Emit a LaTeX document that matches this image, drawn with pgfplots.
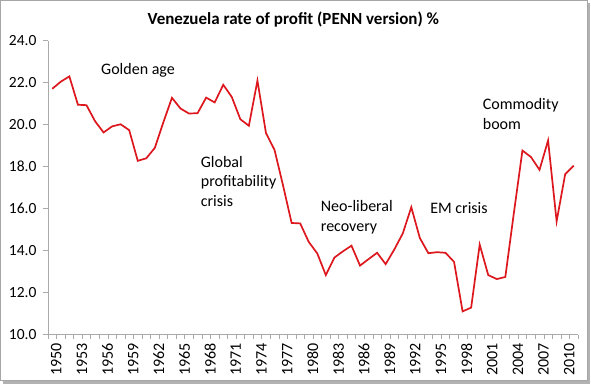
\documentclass[border=0pt]{standalone}
\usepackage{pgfplots}
\pgfplotsset{compat=1.18}
\usepackage{fontspec}
\setmainfont{Carlito}
\definecolor{linered}{RGB}{220,24,30}
\definecolor{axgray}{RGB}{170,170,170}
\begin{document}
\begin{tikzpicture}
\useasboundingbox (0bp,0bp) rectangle (591bp,388bp);
\fill[gray!60] (3bp,4bp) rectangle (590bp,385bp);
\fill[white, draw=gray!70, line width=0.8bp] (0.5bp,8bp) rectangle (587bp,387.5bp);
\begin{axis}[
  at={(48bp,53.3bp)}, anchor=south west,
  scale only axis, width=530bp, height=294bp,
  xmin=-0.5, xmax=61.5, ymin=10, ymax=24,
  axis x line=bottom, axis y line=left,
  axis line style={-, draw=axgray, line width=0.8bp},
  tick align=outside,
  xtick={0,3,...,60},
  xticklabels={1950,1953,1956,1959,1962,1965,1968,1971,1974,1977,1980,1983,1986,1989,1992,1995,1998,2001,2004,2007,2010},
  major x tick style={draw=none},
  minor xtick={-0.5,0.5,...,61.5},
  minor x tick style={draw=axgray, line width=0.6bp},
  minor tick length=4bp,
  ytick={10,12,...,24},
  major y tick style={draw=axgray, line width=0.8bp},
  major tick length=5bp,
  /pgf/number format/fixed,
  /pgf/number format/fixed zerofill,
  /pgf/number format/precision=1,
  /pgf/number format/assume math mode=true,
  yticklabel style={font=\fontsize{15.5bp}{18bp}\selectfont, xshift=-3bp},
  xticklabel style={rotate=90, anchor=east, yshift=-4bp, font=\fontsize{16bp}{18bp}\selectfont},
  clip=false,
]
\addplot[linered, line width=1.7bp, mark=none] table[x=n, y=v] {
n v
0 21.71
1 22.05
2 22.30
3 20.95
4 20.93
5 20.17
6 19.63
7 19.92
8 20.02
9 19.74
10 18.28
11 18.40
12 18.90
13 20.12
14 21.28
15 20.77
16 20.53
17 20.55
18 21.29
19 21.06
20 21.90
21 21.32
22 20.26
23 19.95
24 22.10
25 19.60
26 18.80
27 17.10
28 15.32
29 15.30
30 14.42
31 13.87
32 12.84
33 13.67
34 13.97
35 14.24
36 13.29
37 13.60
38 13.90
39 13.36
40 14.05
41 14.82
42 16.07
43 14.60
44 13.88
45 13.93
46 13.90
47 13.47
48 11.11
49 11.29
50 14.29
51 12.84
52 12.65
53 12.75
54 15.80
55 18.77
56 18.46
57 17.85
58 19.25
59 15.40
60 17.64
61 18.05
};
\node[font=\bfseries\fontsize{17bp}{20bp}\selectfont] at (axis cs:28.2,25.03) {Venezuela rate of profit (PENN version) \%};
\node[anchor=west, inner sep=0, font=\fontsize{16bp}{19.5bp}\selectfont] at (axis cs:5.7,22.6) {Golden age};
\node[anchor=west, inner sep=0, align=left, font=\fontsize{16bp}{19.5bp}\selectfont] at (axis cs:17.36,17.3) {Global\\profitability\\crisis};
\node[anchor=west, inner sep=0, align=left, font=\fontsize{16bp}{19.5bp}\selectfont] at (axis cs:31.4,15.6) {Neo-liberal\\recovery};
\node[anchor=west, inner sep=0, font=\fontsize{16bp}{19.5bp}\selectfont] at (axis cs:44.2,16.05) {EM crisis};
\node[anchor=west, inner sep=0, align=left, font=\fontsize{16bp}{19.5bp}\selectfont] at (axis cs:50.35,20.5) {Commodity\\boom};
\end{axis}
\end{tikzpicture}
\end{document}
